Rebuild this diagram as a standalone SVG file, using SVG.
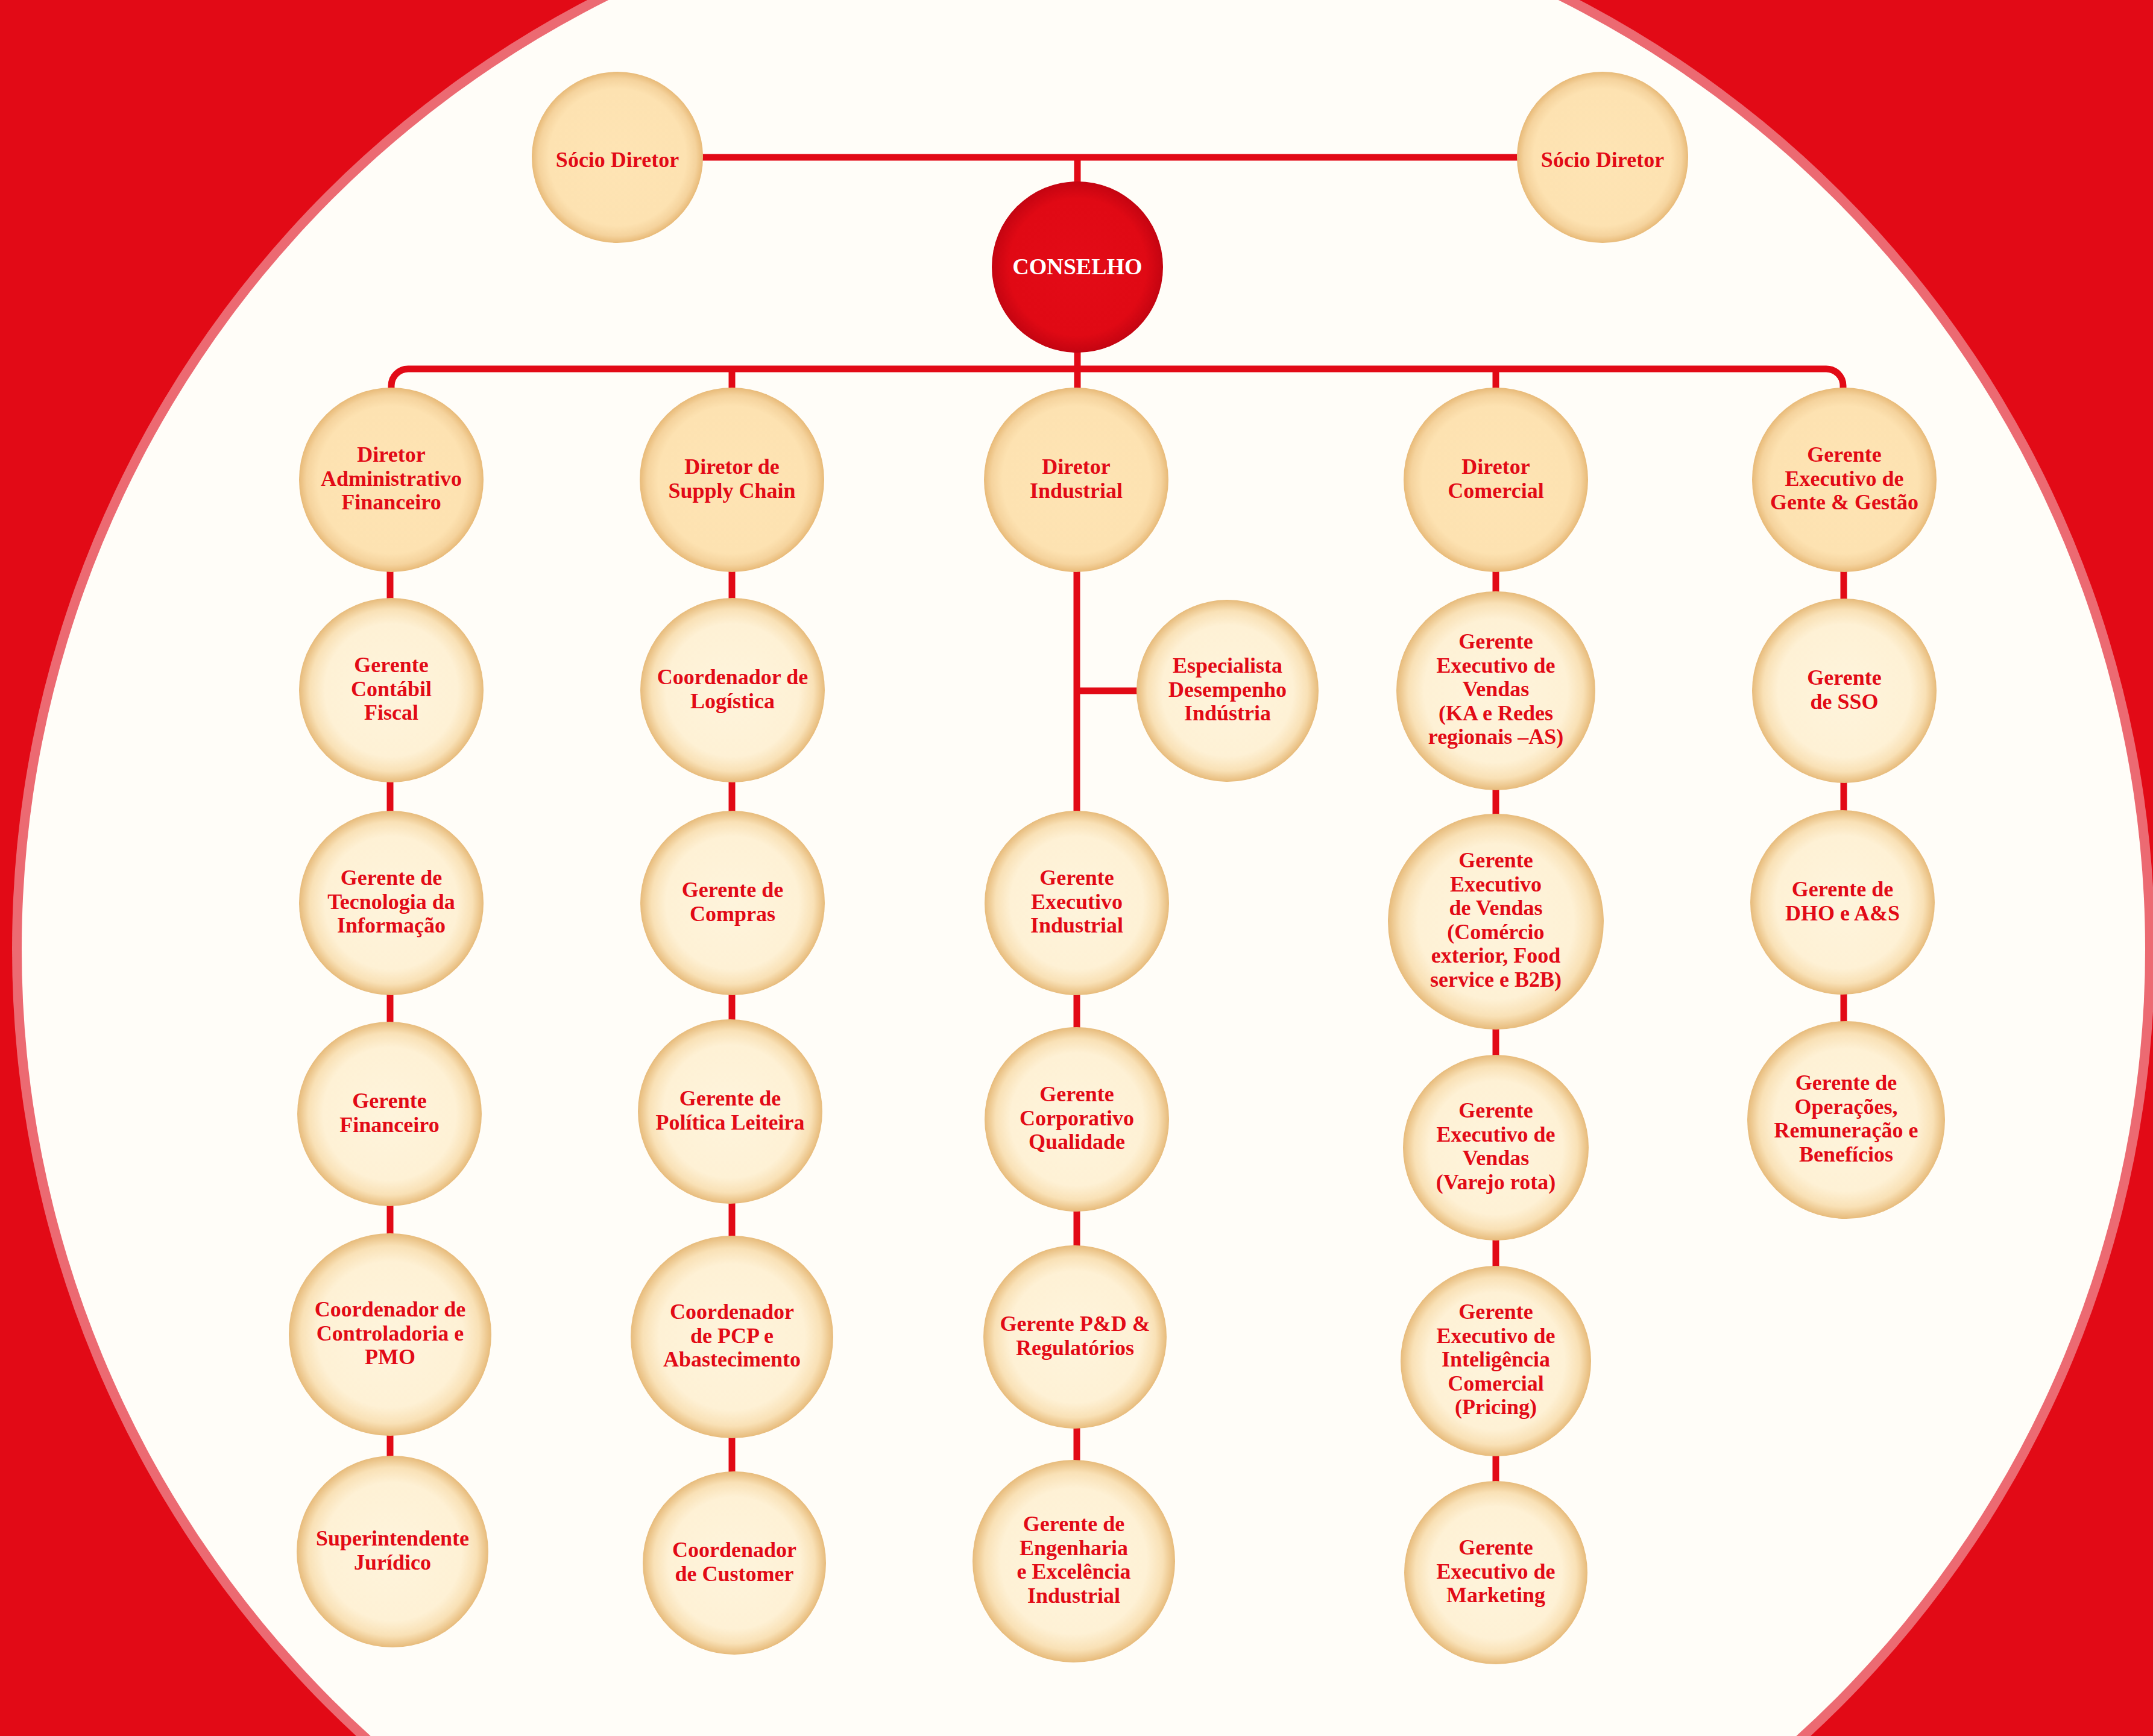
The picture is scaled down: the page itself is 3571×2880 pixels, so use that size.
<svg xmlns="http://www.w3.org/2000/svg" width="3571" height="2880" viewBox="0 0 3571 2880">
<defs>
<radialGradient id="gWarm" cx="50%" cy="50%" r="50%">
<stop offset="0" stop-color="#FEE4B4"/>
<stop offset="0.8" stop-color="#FDE2B1"/>
<stop offset="0.92" stop-color="#F5D39D"/>
<stop offset="1" stop-color="#E8BA78"/>
</radialGradient>
<radialGradient id="gLight" cx="50%" cy="50%" r="50%">
<stop offset="0" stop-color="#FEF4DC"/>
<stop offset="0.72" stop-color="#FEF1D5"/>
<stop offset="0.88" stop-color="#F9E1B6"/>
<stop offset="1" stop-color="#E7BB7B"/>
</radialGradient>
<radialGradient id="gRed" cx="50%" cy="50%" r="50%">
<stop offset="0" stop-color="#E30B17"/>
<stop offset="0.8" stop-color="#E00914"/>
<stop offset="1" stop-color="#C40411"/>
</radialGradient>
<style>
.warm{fill:url(#gWarm);}
.light{fill:url(#gLight);}
.red{fill:url(#gRed);}
.lbl{font-family:"Liberation Serif","DejaVu Serif",serif;font-weight:bold;font-size:36px;fill:#E20A16;text-anchor:middle;}
.wlbl{font-family:"Liberation Serif","DejaVu Serif",serif;font-weight:bold;font-size:38px;fill:#FFFFFF;text-anchor:middle;}
.conn{fill:none;stroke:#E20A16;stroke-width:11;}
</style>
</defs>

<g id="background">
<rect x="0" y="0" width="3571" height="2880" fill="#E20A16"/>
<circle cx="1797" cy="1575" r="1777" fill="#EC6A72"/>
<circle cx="1797" cy="1575" r="1761" fill="#FFFDF8"/>
</g>

<g id="connectors">
<path class="conn" d="M1024 261 H2658"/>
<path class="conn" d="M1787 261 V796"/>
<path class="conn" d="M649 796 V640 A28 28 0 0 1 677 612 H3029 A28 28 0 0 1 3057 640 V796"/>
<path class="conn" d="M1214 612 V796"/>
<path class="conn" d="M2481 612 V796"/>
<path class="conn" d="M647 796 V2574"/>
<path class="conn" d="M1214 796 V2593"/>
<path class="conn" d="M1786 796 V2590"/>
<path class="conn" d="M1786 1146 H2036"/>
<path class="conn" d="M2481 796 V2609"/>
<path class="conn" d="M3058 796 V1858"/>
</g>

<g id="socio-diretor-1">
<circle class="warm" cx="1024" cy="261" r="142"/>
<text class="lbl" x="1024" y="277">Sócio Diretor</text>
</g>
<g id="socio-diretor-2">
<circle class="warm" cx="2658" cy="261" r="142"/>
<text class="lbl" x="2658" y="277">Sócio Diretor</text>
</g>
<g id="conselho">
<circle class="red" cx="1787" cy="443" r="142"/>
<text class="wlbl" x="1787" y="455">CONSELHO</text>
</g>

<g id="diretor-adm-fin">
<circle class="warm" cx="649" cy="796" r="153"/>
<text class="lbl" x="649" y="766">Diretor<tspan x="649" dy="39.5">Administrativo</tspan><tspan x="649" dy="39.5">Financeiro</tspan></text>
</g>
<g id="diretor-supply">
<circle class="warm" cx="1214" cy="796" r="153"/>
<text class="lbl" x="1214" y="786">Diretor de<tspan x="1214" dy="39.5">Supply Chain</tspan></text>
</g>
<g id="diretor-industrial">
<circle class="warm" cx="1785" cy="796" r="153"/>
<text class="lbl" x="1785" y="786">Diretor<tspan x="1785" dy="39.5">Industrial</tspan></text>
</g>
<g id="diretor-comercial">
<circle class="warm" cx="2481" cy="796" r="153"/>
<text class="lbl" x="2481" y="786">Diretor<tspan x="2481" dy="39.5">Comercial</tspan></text>
</g>
<g id="gerente-gente-gestao">
<circle class="warm" cx="3059" cy="796" r="153"/>
<text class="lbl" x="3059" y="766">Gerente<tspan x="3059" dy="39.5">Executivo de</tspan><tspan x="3059" dy="39.5">Gente &amp; Gestão</tspan></text>
</g>

<g id="gerente-contabil">
<circle class="light" cx="649" cy="1145" r="153"/>
<text class="lbl" x="649" y="1115">Gerente<tspan x="649" dy="39.5">Contábil</tspan><tspan x="649" dy="39.5">Fiscal</tspan></text>
</g>
<g id="gerente-ti">
<circle class="light" cx="649" cy="1498" r="153"/>
<text class="lbl" x="649" y="1468">Gerente de<tspan x="649" dy="39.5">Tecnologia da</tspan><tspan x="649" dy="39.5">Informação</tspan></text>
</g>
<g id="gerente-financeiro">
<circle class="light" cx="646" cy="1848" r="153"/>
<text class="lbl" x="646" y="1838">Gerente<tspan x="646" dy="39.5">Financeiro</tspan></text>
</g>
<g id="coord-controladoria">
<circle class="light" cx="647" cy="2214" r="168"/>
<text class="lbl" x="647" y="2184">Coordenador de<tspan x="647" dy="39.5">Controladoria e</tspan><tspan x="647" dy="39.5">PMO</tspan></text>
</g>
<g id="superintendente-juridico">
<circle class="light" cx="651" cy="2574" r="159"/>
<text class="lbl" x="651" y="2564">Superintendente<tspan x="651" dy="39.5">Jurídico</tspan></text>
</g>

<g id="coord-logistica">
<circle class="light" cx="1215" cy="1145" r="153"/>
<text class="lbl" x="1215" y="1135">Coordenador de<tspan x="1215" dy="39.5">Logística</tspan></text>
</g>
<g id="gerente-compras">
<circle class="light" cx="1215" cy="1498" r="153"/>
<text class="lbl" x="1215" y="1488">Gerente de<tspan x="1215" dy="39.5">Compras</tspan></text>
</g>
<g id="gerente-politica-leiteira">
<circle class="light" cx="1211" cy="1844" r="153"/>
<text class="lbl" x="1211" y="1834">Gerente de<tspan x="1211" dy="39.5">Política Leiteira</tspan></text>
</g>
<g id="coord-pcp">
<circle class="light" cx="1214" cy="2218" r="168"/>
<text class="lbl" x="1214" y="2188">Coordenador<tspan x="1214" dy="39.5">de PCP e</tspan><tspan x="1214" dy="39.5">Abastecimento</tspan></text>
</g>
<g id="coord-customer">
<circle class="light" cx="1218" cy="2593" r="152"/>
<text class="lbl" x="1218" y="2583">Coordenador<tspan x="1218" dy="39.5">de Customer</tspan></text>
</g>

<g id="especialista-desempenho">
<circle class="light" cx="2036" cy="1146" r="151"/>
<text class="lbl" x="2036" y="1116">Especialista<tspan x="2036" dy="39.5">Desempenho</tspan><tspan x="2036" dy="39.5">Indústria</tspan></text>
</g>
<g id="gerente-exec-industrial">
<circle class="light" cx="1786" cy="1498" r="153"/>
<text class="lbl" x="1786" y="1468">Gerente<tspan x="1786" dy="39.5">Executivo</tspan><tspan x="1786" dy="39.5">Industrial</tspan></text>
</g>
<g id="gerente-qualidade">
<circle class="light" cx="1786" cy="1857" r="153"/>
<text class="lbl" x="1786" y="1827">Gerente<tspan x="1786" dy="39.5">Corporativo</tspan><tspan x="1786" dy="39.5">Qualidade</tspan></text>
</g>
<g id="gerente-pd">
<circle class="light" cx="1783" cy="2218" r="152"/>
<text class="lbl" x="1783" y="2208">Gerente P&amp;D &amp;<tspan x="1783" dy="39.5">Regulatórios</tspan></text>
</g>
<g id="gerente-engenharia">
<circle class="light" cx="1781" cy="2590" r="168"/>
<text class="lbl" x="1781" y="2540">Gerente de<tspan x="1781" dy="39.5">Engenharia</tspan><tspan x="1781" dy="39.5">e Excelência</tspan><tspan x="1781" dy="39.5">Industrial</tspan></text>
</g>

<g id="gerente-vendas-ka">
<circle class="light" cx="2481" cy="1146" r="165"/>
<text class="lbl" x="2481" y="1076">Gerente<tspan x="2481" dy="39.5">Executivo de</tspan><tspan x="2481" dy="39.5">Vendas</tspan><tspan x="2481" dy="39.5">(KA e Redes</tspan><tspan x="2481" dy="39.5">regionais –AS)</tspan></text>
</g>
<g id="gerente-vendas-comex">
<circle class="light" cx="2481" cy="1529" r="179"/>
<text class="lbl" x="2481" y="1439">Gerente<tspan x="2481" dy="39.5">Executivo</tspan><tspan x="2481" dy="39.5">de Vendas</tspan><tspan x="2481" dy="39.5">(Comércio</tspan><tspan x="2481" dy="39.5">exterior, Food</tspan><tspan x="2481" dy="39.5">service e B2B)</tspan></text>
</g>
<g id="gerente-vendas-varejo">
<circle class="light" cx="2481" cy="1904" r="154"/>
<text class="lbl" x="2481" y="1854">Gerente<tspan x="2481" dy="39.5">Executivo de</tspan><tspan x="2481" dy="39.5">Vendas</tspan><tspan x="2481" dy="39.5">(Varejo rota)</tspan></text>
</g>
<g id="gerente-inteligencia">
<circle class="light" cx="2481" cy="2258" r="158"/>
<text class="lbl" x="2481" y="2188">Gerente<tspan x="2481" dy="39.5">Executivo de</tspan><tspan x="2481" dy="39.5">Inteligência</tspan><tspan x="2481" dy="39.5">Comercial</tspan><tspan x="2481" dy="39.5">(Pricing)</tspan></text>
</g>
<g id="gerente-marketing">
<circle class="light" cx="2481" cy="2609" r="152"/>
<text class="lbl" x="2481" y="2579">Gerente<tspan x="2481" dy="39.5">Executivo de</tspan><tspan x="2481" dy="39.5">Marketing</tspan></text>
</g>

<g id="gerente-sso">
<circle class="light" cx="3059" cy="1146" r="153"/>
<text class="lbl" x="3059" y="1136">Gerente<tspan x="3059" dy="39.5">de SSO</tspan></text>
</g>
<g id="gerente-dho">
<circle class="light" cx="3056" cy="1497" r="153"/>
<text class="lbl" x="3056" y="1487">Gerente de<tspan x="3056" dy="39.5">DHO e A&amp;S</tspan></text>
</g>
<g id="gerente-operacoes">
<circle class="light" cx="3062" cy="1858" r="164"/>
<text class="lbl" x="3062" y="1808">Gerente de<tspan x="3062" dy="39.5">Operações,</tspan><tspan x="3062" dy="39.5">Remuneração e</tspan><tspan x="3062" dy="39.5">Benefícios</tspan></text>
</g>
</svg>
